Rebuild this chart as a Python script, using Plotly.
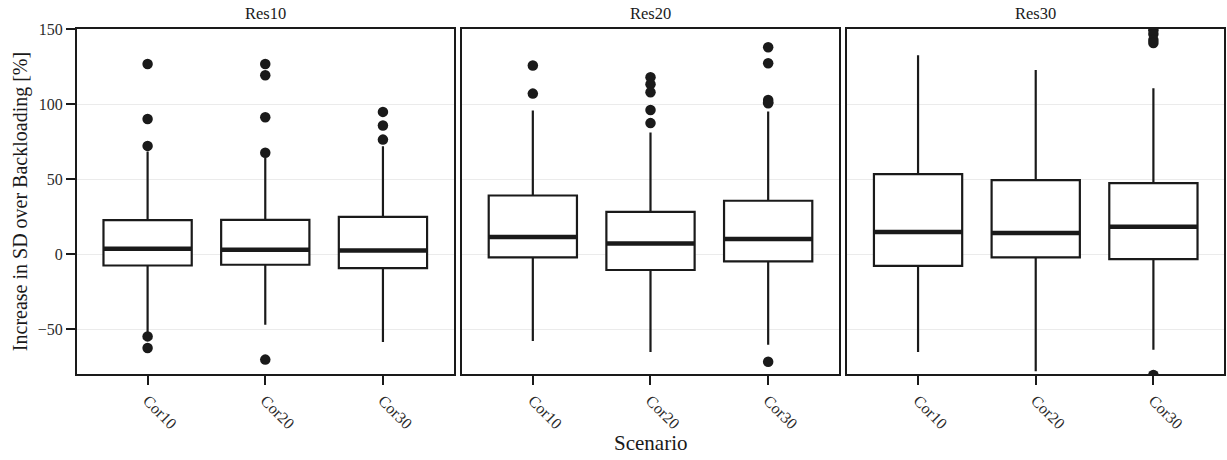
import plotly.graph_objects as go

panels = ["Res10", "Res20", "Res30"]
categories = ["Cor10", "Cor20", "Cor30"]

# box statistics per panel (rows) and category (columns)
lower_whisker = [[-53.0, -47.0, -58.5], [-57.9, -65.2, -60.3], [-65.2, -78.1, -63.7]]
q1 = [[-7.5, -7.0, -9.2], [-2.1, -10.5, -4.8], [-7.7, -2.1, -3.2]]
median = [[3.7, 3.0, 2.5], [11.5, 7.2, 10.1], [14.8, 14.1, 18.3]]
q3 = [[22.8, 23.0, 25.0], [39.2, 28.3, 35.7], [53.4, 49.4, 47.4]]
upper_whisker = [[68.5, 64.5, 72.0], [95.9, 81.2, 95.2], [132.8, 123.0, 110.8]]

# outliers per panel and category
outliers = [
    [[127.0, 90.3, 72.3, -54.8, -62.5], [127.0, 119.4, 91.4, 67.7, -70.3], [95.0, 85.9, 76.5]],
    [[126.0, 107.2], [118.1, 113.4, 108.1, 96.3, 87.5], [138.1, 127.4, 103.0, 101.5, 100.8, -71.7]],
    [[], [], [149.5, 147.0, 143.0, 141.0, -80.5]],
]

y_ticks = [-50, 0, 50, 100, 150]

INK = "#1a1a1a"
FONT = "Liberation Serif"
BOX_W = 0.75

W, H = 1227, 460
L, R, T, B = 77, 1, 29, 86
plot_w = W - L - R
panel_px = 377.2
gap_px = 8.7

fig = go.Figure()
domains = []
for i in range(3):
    x0 = i * (panel_px + gap_px) / plot_w
    x1 = min(1.0, x0 + panel_px / plot_w)
    domains.append([x0, x1])

for i, name in enumerate(panels):
    xa = "x" if i == 0 else f"x{i+1}"
    ya = "y" if i == 0 else f"y{i+1}"
    xs = list(range(len(categories)))
    fig.add_trace(go.Box(
        x=xs, q1=q1[i], median=median[i], q3=q3[i],
        lowerfence=lower_whisker[i], upperfence=upper_whisker[i],
        width=BOX_W, boxpoints=False, fillcolor="white", whiskerwidth=0,
        line=dict(color=INK, width=2.2), xaxis=xa, yaxis=ya,
        showlegend=False, hoverinfo="skip",
    ))
    mx, my = [], []
    for j in xs:
        mx += [j - BOX_W / 2, j + BOX_W / 2, None]
        my += [median[i][j], median[i][j], None]
    fig.add_trace(go.Scatter(
        x=mx, y=my, mode="lines", line=dict(color=INK, width=4.5),
        xaxis=xa, yaxis=ya, showlegend=False, hoverinfo="skip",
    ))
    ox, oy = [], []
    for j in xs:
        ox += [j] * len(outliers[i][j])
        oy += outliers[i][j]
    fig.add_trace(go.Scatter(
        x=ox, y=oy, mode="markers", marker=dict(color=INK, size=10.5),
        xaxis=xa, yaxis=ya, showlegend=False, cliponaxis=True,
    ))
    axis_common = dict(showline=True, linecolor=INK, linewidth=2, mirror=True,
                       zeroline=False)
    fig.layout[("xaxis" if i == 0 else f"xaxis{i+1}")] = dict(
        domain=domains[i], range=[-0.6, 2.6], tickvals=xs, ticktext=categories,
        tickangle=45, ticks="outside", ticklen=9, tickwidth=2, tickcolor=INK,
        showgrid=False, anchor=ya,
        tickfont=dict(family=FONT, size=16, color="#2b2b2b"), **axis_common,
    )
    fig.layout[("yaxis" if i == 0 else f"yaxis{i+1}")] = dict(
        domain=[0, 1], range=[-79.9, 150.3], tickvals=y_ticks,
        ticks="outside" if i == 0 else "", ticklen=9, tickwidth=2, tickcolor=INK,
        showticklabels=(i == 0), showgrid=True, gridcolor="#ebebeb", gridwidth=1,
        anchor=xa, tickfont=dict(family=FONT, size=16, color="#2b2b2b"),
        **axis_common,
    )
    fig.add_annotation(
        text=name, x=0.5, y=1.0, xref=f"{xa} domain", yref=f"{ya} domain",
        xanchor="center", yanchor="bottom", yshift=4, showarrow=False,
        font=dict(family=FONT, size=16.5, color="#1a1a1a"),
    )

fig.layout.yaxis.title = dict(text="Increase in SD over Backloading [%]",
                              font=dict(family=FONT, size=20, color="#1a1a1a"),
                              standoff=5)
fig.add_annotation(
    text="Scenario", x=0.5, y=0, xref="x2 domain", yref="paper",
    xanchor="center", yanchor="top", yshift=-55, showarrow=False,
    font=dict(family=FONT, size=21, color="#1a1a1a"),
)

fig.update_layout(
    width=W, height=H, margin=dict(l=L, r=R, t=T, b=B),
    paper_bgcolor="white", plot_bgcolor="white",
    font=dict(family=FONT, color="#1a1a1a"),
    showlegend=False,
)

fig.write_html("out.html")
